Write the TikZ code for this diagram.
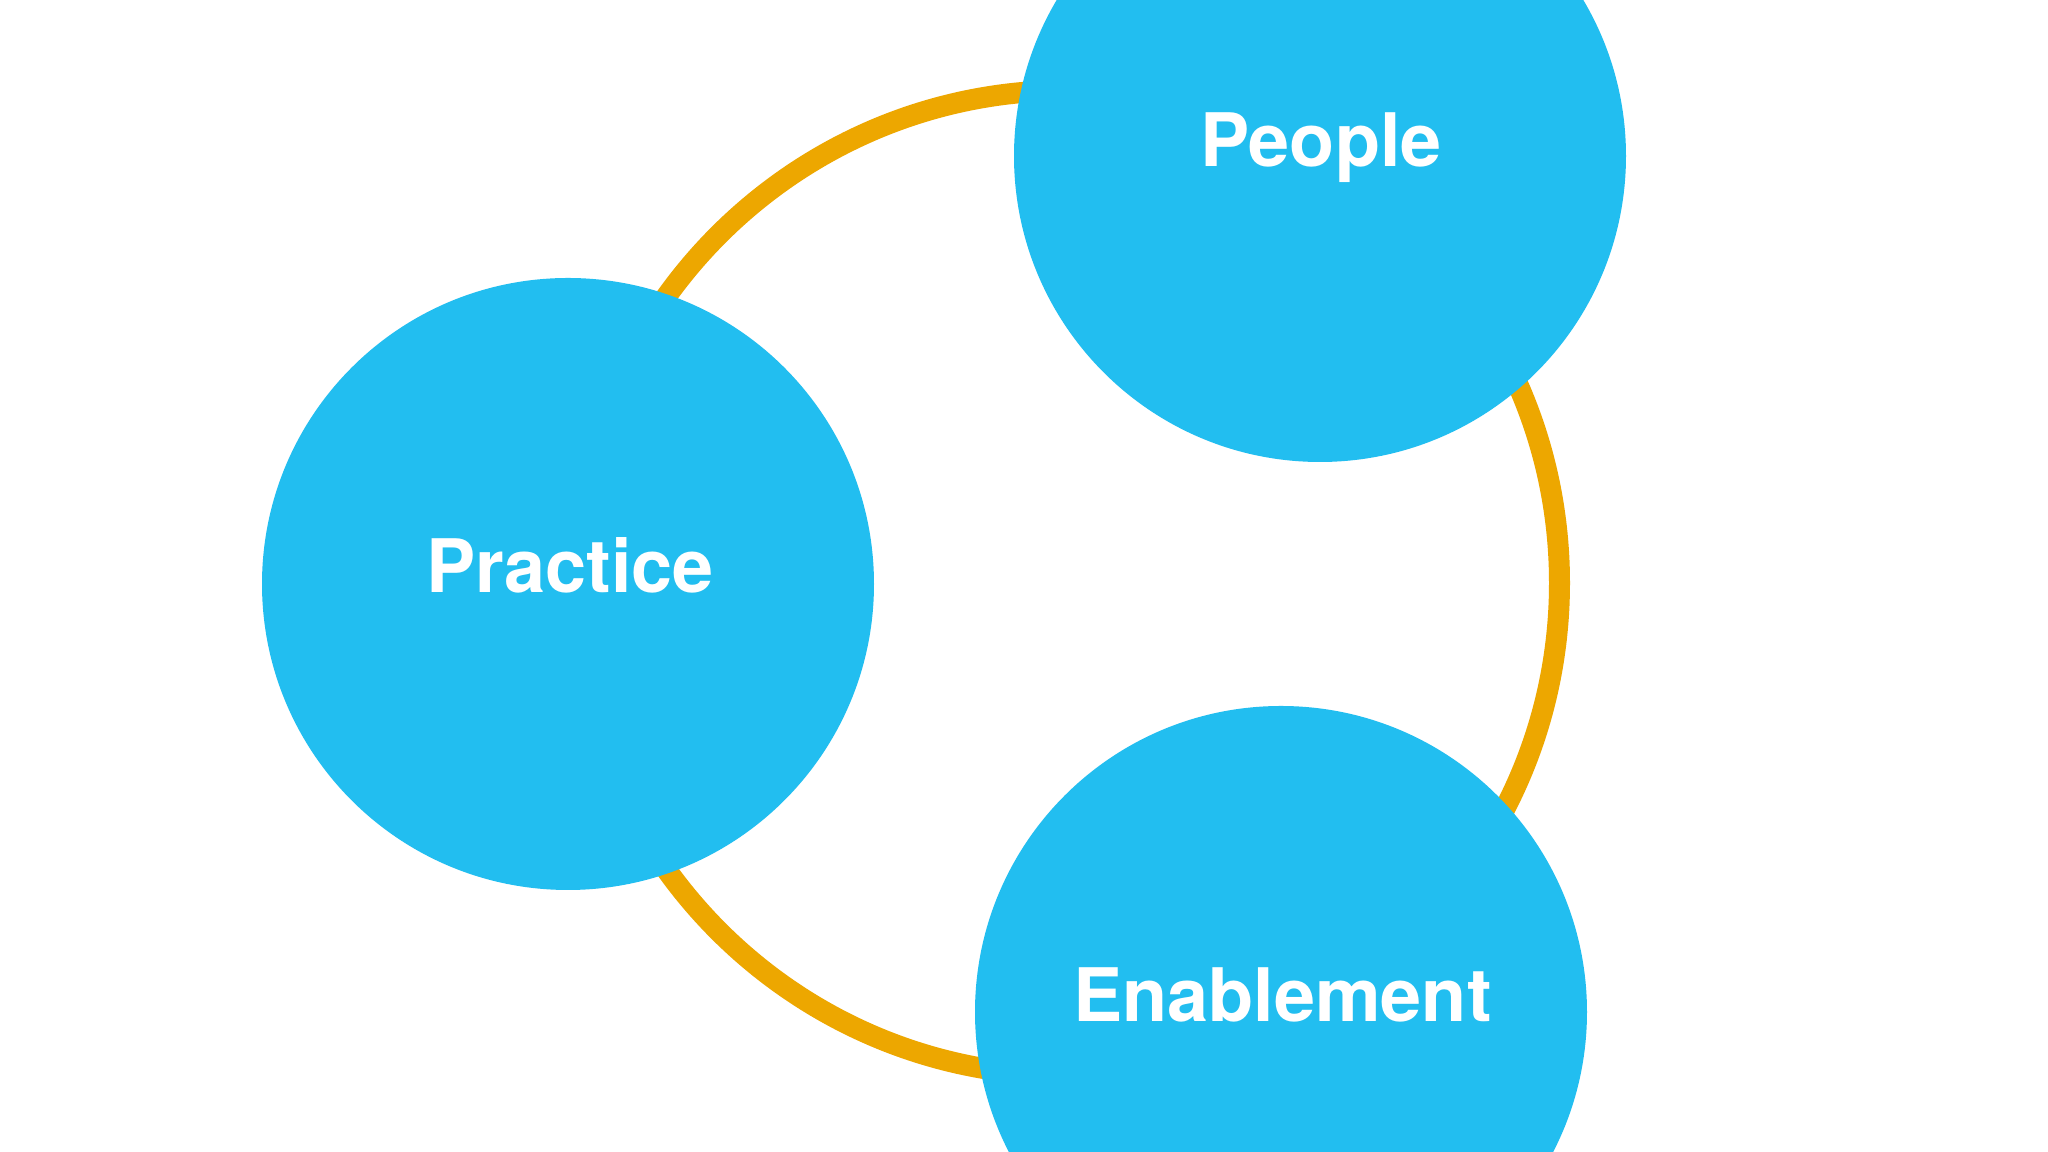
\documentclass[tikz,border=0pt]{standalone}
\usepackage{fontspec}
\setmainfont{TeX Gyre Heros}
\definecolor{bubbleblue}{HTML}{22BEF0}
\definecolor{ringorange}{HTML}{EDA700}
\begin{document}
\begin{tikzpicture}[
  bubble/.style={circle, fill=bubbleblue, draw=none, minimum size=6.12cm, inner sep=0pt},
  ringline/.style={draw=ringorange, line width=0.21cm},
  lbl/.style={anchor=base, text=white, inner sep=0pt, font=\fontsize{21}{25}\selectfont\bfseries}
]
\useasboundingbox (0,0) rectangle (20.48,11.52);
\clip (0,0) rectangle (20.48,11.52);
\fill[white] (0,0) rectangle (20.48,11.52);
\coordinate (ringc) at (10.67,5.69);
\draw[ringline] (ringc) circle (4.925);
\node[bubble] (practice) at (5.68,5.68) {};
\node[bubble] (people) at (13.20,9.96) {};
\node[bubble] (enable) at (12.81,1.40) {};
\node[lbl] (practicet) at (5.70,5.595) {Practice};
\node[lbl] (peoplet) at (13.21,9.855) {People};
\node[lbl] (enablet) at (12.825,1.30) {Enablement};
\end{tikzpicture}
\end{document}
